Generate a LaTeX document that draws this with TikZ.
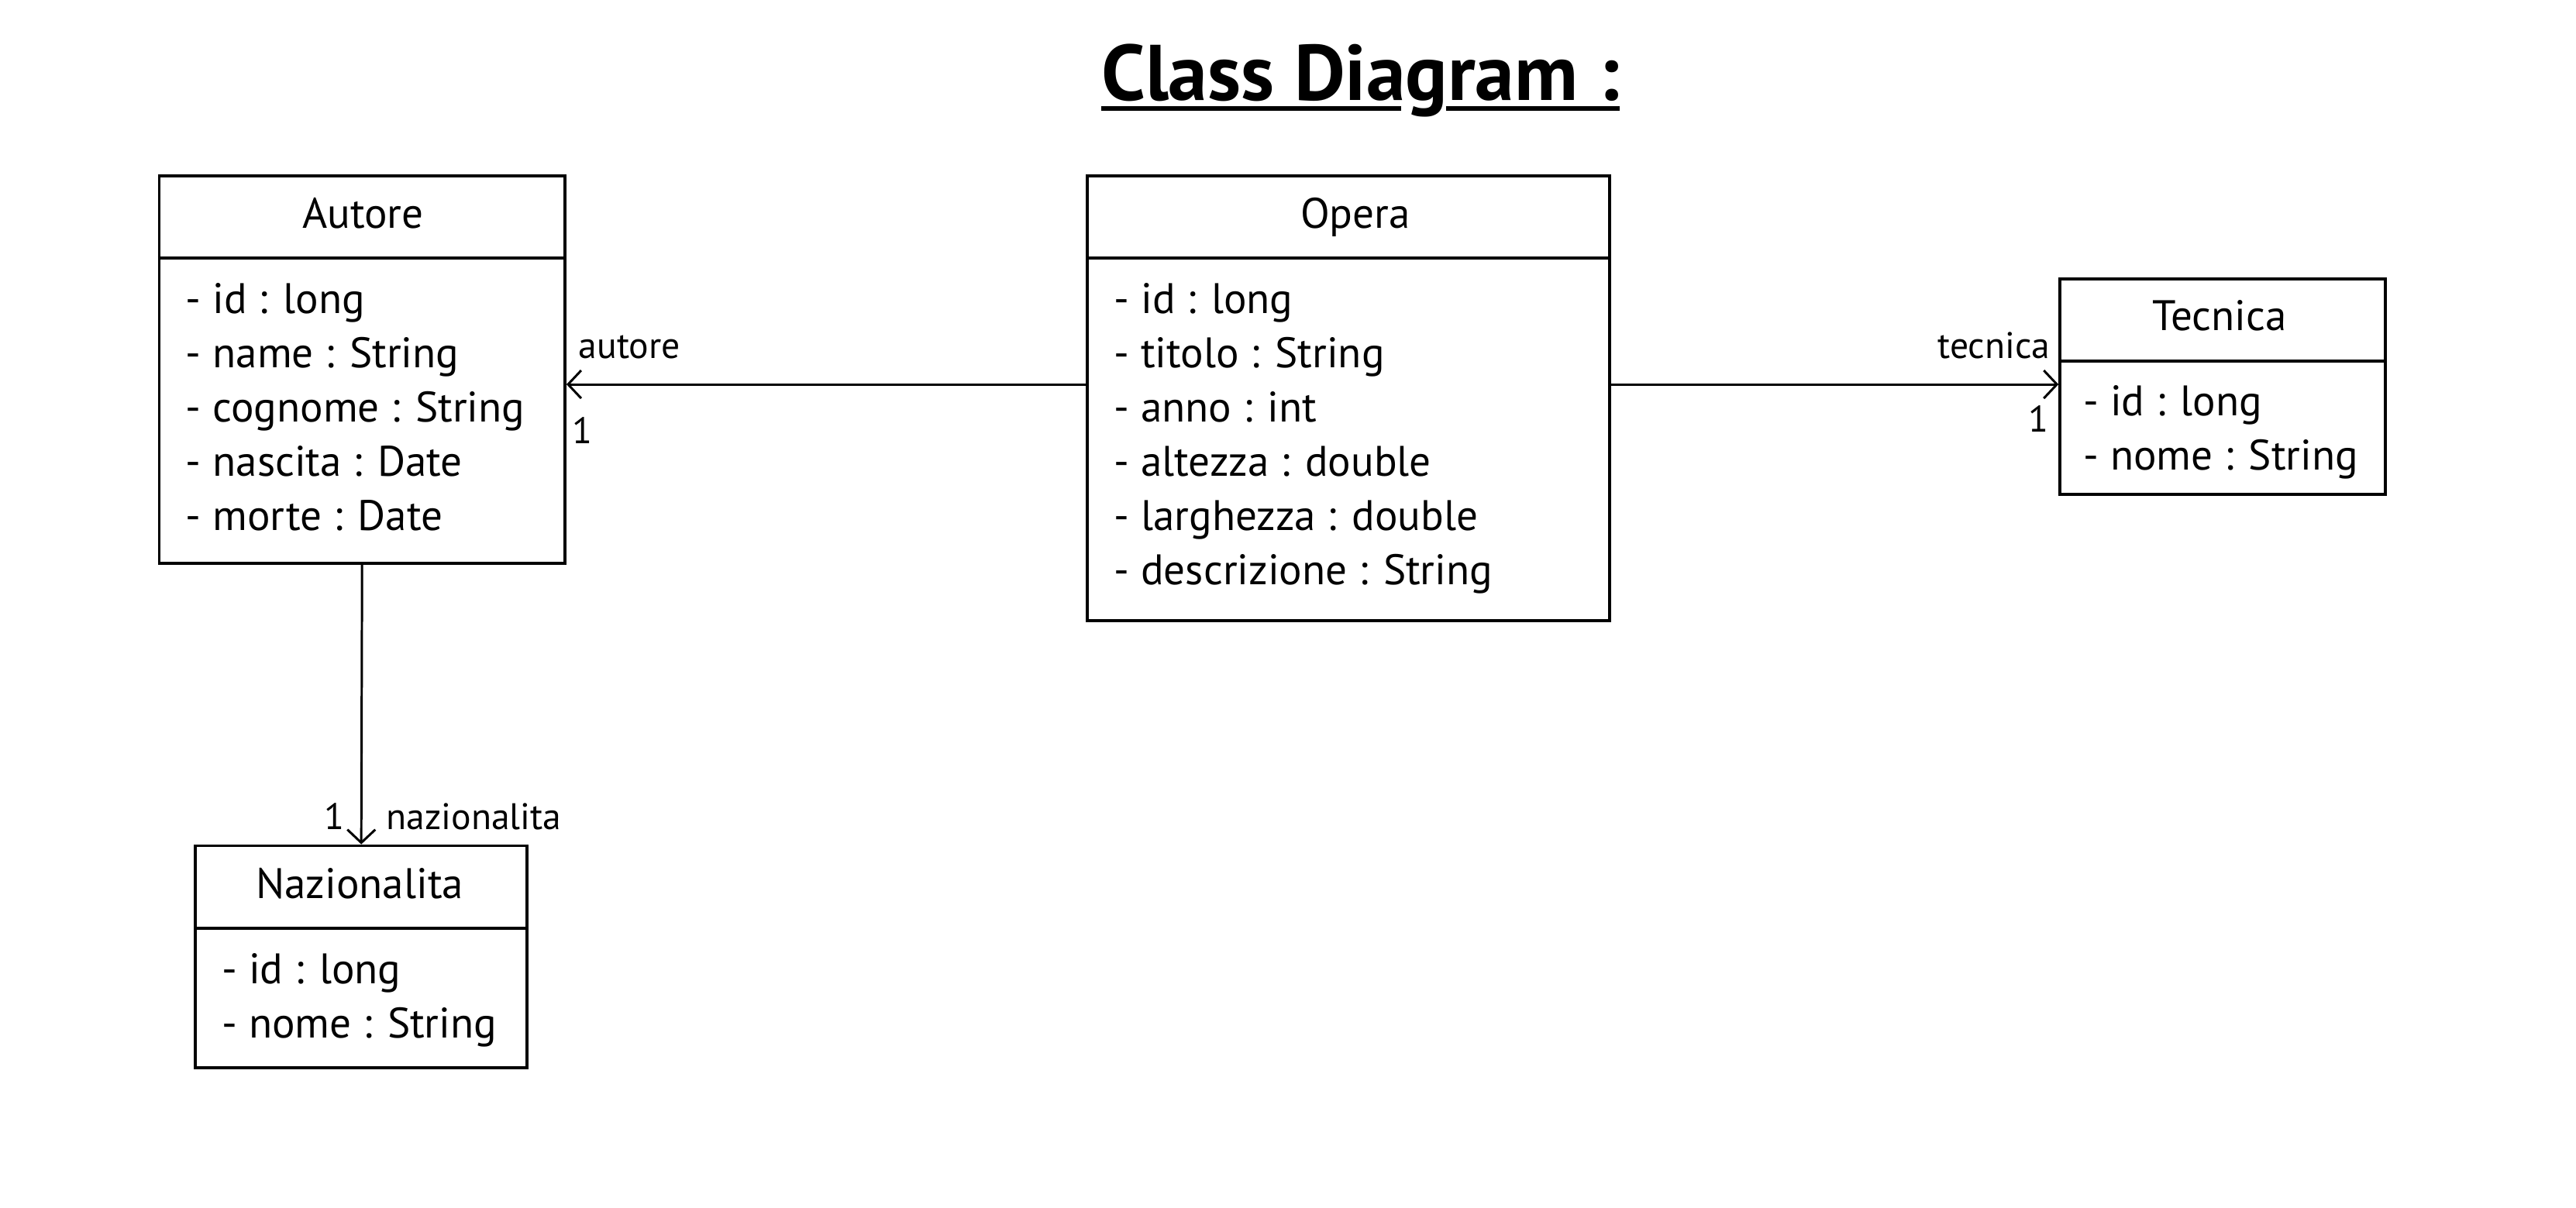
\documentclass[tikz,border=0pt]{standalone}
\usepackage{fontspec}
\setmainfont{PT Sans}
\usetikzlibrary{arrows.meta}
\begin{document}
\begin{tikzpicture}[x=1pt,y=-1pt,
  classbox/.style={draw, line width=1.8pt, inner sep=0pt, anchor=north west},
  divider/.style={line width=1.8pt},
  ctitle/.style={anchor=base, inner sep=0pt, font=\fontsize{26}{30}\selectfont},
  attr/.style={anchor=base west, inner sep=0pt, font=\fontsize{26}{30}\selectfont},
  lbl/.style={inner sep=0pt, font=\fontsize{22.5}{26}\selectfont},
  assoc/.style={line width=1.4pt, -{Straight Barb[length=8pt,width=17pt,line width=1.4pt]}}
]
\useasboundingbox (0,0) rectangle (1568,735);
\fill[white] (0,0) rectangle (1568,735);

% title
\node[anchor=base, inner sep=0pt, font=\fontsize{48}{54}\selectfont\bfseries] (title) at (828,61) {Class Diagram :};
\draw[line width=2.8pt] (title.base west |- 0,66) coordinate (u1) -- (853,66) coordinate (u2);
\draw[line width=2.8pt] (880,66) coordinate (u3) -- (title.base east |- 0,66) coordinate (u4);

% Autore
\node[classbox, minimum width=247pt, minimum height=236pt] (autore) at (96,106) {};
\draw[divider] ([yshift=-51pt]autore.north west) -- ([yshift=-51pt]autore.north east);
\node[ctitle] (autoreT) at (221,139) {Autore};
\node[attr] (autore1) at (113,191) {- id : long};
\node[attr] (autore2) at (113,224) {- name : String};
\node[attr] (autore3) at (113,257) {- cognome : String};
\node[attr] (autore4) at (113,290) {- nascita : Date};
\node[attr] (autore5) at (113,323) {- morte : Date};

% Opera
\node[classbox, minimum width=318pt, minimum height=271pt] (opera) at (661,106) {};
\draw[divider] ([yshift=-51pt]opera.north west) -- ([yshift=-51pt]opera.north east);
\node[ctitle] (operaT) at (825,139) {Opera};
\node[attr] (opera1) at (678,191) {- id : long};
\node[attr] (opera2) at (678,224) {- titolo : String};
\node[attr] (opera3) at (678,257) {- anno : int};
\node[attr] (opera4) at (678,290) {- altezza : double};
\node[attr] (opera5) at (678,323) {- larghezza : double};
\node[attr] (opera6) at (678,356) {- descrizione : String};

% Tecnica
\node[classbox, minimum width=198pt, minimum height=131pt] (tecnica) at (1253,169) {};
\draw[divider] ([yshift=-51pt]tecnica.north west) -- ([yshift=-51pt]tecnica.north east);
\node[ctitle] (tecnicaT) at (1351,201) {Tecnica};
\node[attr] (tecnica1) at (1268,253) {- id : long};
\node[attr] (tecnica2) at (1268,286) {- nome : String};

% Nazionalita
\node[classbox, minimum width=202pt, minimum height=135pt] (naz) at (118,514) {};
\draw[divider] ([yshift=-51pt]naz.north west) -- ([yshift=-51pt]naz.north east);
\node[ctitle] (nazT) at (219,547) {Nazionalita};
\node[attr] (naz1) at (135,599) {- id : long};
\node[attr] (naz2) at (135,632) {- nome : String};

% associations
\draw[assoc] ([yshift=-128pt]opera.north west) -- ([yshift=-128pt]autore.north east);
\draw[assoc] ([yshift=-128pt]opera.north east) -- ([yshift=-65pt]tecnica.north west);
\draw[assoc] (autore.south) -- (naz.north);

% labels
\node[lbl, anchor=base west] (lAutore) at (352,218) {autore};
\node[lbl, anchor=base west] (mAutore) at (348,270) {1};
\node[lbl, anchor=base east] (lTecnica) at (1248,218) {tecnica};
\node[lbl, anchor=base east] (mTecnica) at (1247,263) {1};
\node[lbl, anchor=base east] (mNaz) at (210,505) {1};
\node[lbl, anchor=base west] (lNaz) at (235,505) {nazionalita};
\end{tikzpicture}
\end{document}
